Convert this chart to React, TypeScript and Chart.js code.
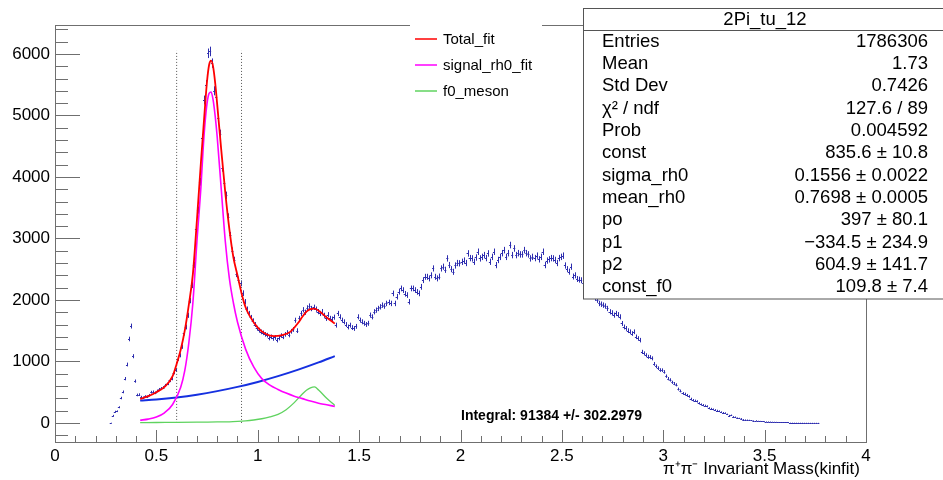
import React, { useEffect, useRef } from "react";
import { Chart, registerables } from "chart.js";

Chart.register(...registerables);

// ---------------- data ----------------
const binStart = 0.275;
const binWidth = 0.01;
const entriesPerBin = [
  // 0.275 - 0.425
  5, 120, 185, 190, 255, 405, 505, 720, 950, 1365, 1575, 1085, 680, 455, 460, 420,
  // 0.435 - 0.665
  410, 430, 425, 450, 500, 505, 490, 520, 545, 560, 575, 610, 640, 690, 720, 820, 860, 1040, 1100, 1240, 1460, 1560, 1750, 1990,
  // 0.675 - 0.925
  2240, 2570, 3160, 3460, 3920, 4630, 5250, 5500, 6010, 6040, 5850, 5400, 5300, 4950, 4700, 4150, 3900, 3700, 3350, 3050, 2800, 2650, 2420, 2330, 2270, 2110,
  // 0.935 - 1.395
  1970, 1850, 1780, 1715, 1660, 1600, 1540, 1509, 1480, 1465, 1440, 1427, 1380, 1400, 1373, 1390, 1346, 1380, 1420, 1400,
  1440, 1470, 1430, 1490, 1520, 1670, 1500, 1700, 1780, 1840, 1800, 1870, 1900, 1860, 1880, 1850, 1810, 1780, 1810, 1750,
  1700, 1760, 1700, 1690, 1720, 1590, 1780,
  // 1.405 - 1.995
  1725, 1671, 1644, 1600, 1560, 1590, 1550, 1536, 1570, 1725, 1671, 1644, 1620, 1601, 1620, 1753, 1725, 1807, 1834, 1861,
  1888, 1915, 1900, 1943, 1960, 1943, 2106, 1943, 2052, 2133, 2187, 2160, 2100, 2079, 1970, 2187, 2187, 2160, 2130, 2106,
  2213, 2322, 2376, 2376, 2350, 2400, 2512, 2376, 2350, 2380, 2512, 2540, 2490, 2675, 2567, 2500, 2457, 2560, 2600, 2595,
  // 2.005 - 2.595
  2620, 2640, 2600, 2756, 2680, 2675, 2620, 2690, 2783, 2675, 2700, 2729, 2680, 2756, 2620, 2700, 2783, 2566, 2650, 2700,
  2760, 2810, 2700, 2760, 2892, 2729, 2837, 2729, 2760, 2740, 2740, 2810, 2760, 2740, 2675, 2700, 2680, 2720, 2660, 2700,
  2783, 2566, 2640, 2660, 2680, 2675, 2650, 2600, 2680, 2700, 2720, 2560, 2500, 2460, 2540, 2380, 2400, 2340, 2330, 2320,
  // 2.605 - 3.195
  2280, 2230, 2190, 2140, 2100, 2060, 2030, 1997, 1943, 1930, 1915, 1900, 1861, 1807, 1790, 1753, 1780, 1760, 1725, 1617,
  1560, 1536, 1500, 1482, 1454, 1482, 1400, 1373, 1346, 1155, 1130, 1100, 1075, 1070, 1050, 960, 920, 890, 860, 858,
  830, 760, 720, 700, 660, 640, 620, 550, 520, 480, 470, 450, 430, 390, 370, 360, 350, 320, 300, 290,
  // 3.205 - 3.765
  280, 270, 240, 230, 220, 210, 200, 190, 175, 165, 160, 140, 120, 125, 100, 95, 80, 75, 70, 55,
  50, 48, 45, 40, 35, 38, 30, 28, 25, 24, 22, 20, 18, 16, 15, 14, 12, 11, 10, 9,
  8, 8, 7, 7, 6, 6, 5, 5, 5, 4, 4, 4, 3, 3, 3, 3, 2,
];
const binCenters = entriesPerBin.map((_, i) => +(binStart + i * binWidth).toFixed(3));

// fit curves
const totalFitX = [0.42, 0.46, 0.5, 0.54, 0.58, 0.6, 0.62, 0.64, 0.66, 0.68, 0.7, 0.72, 0.74, 0.75, 0.76, 0.77, 0.78, 0.79, 0.8, 0.82, 0.84, 0.86, 0.88, 0.9, 0.92, 0.94, 0.96, 1.0, 1.04, 1.08, 1.12, 1.16, 1.2, 1.22, 1.24, 1.26, 1.28, 1.3, 1.34, 1.38];
const totalFitY = [390, 435, 500, 585, 760, 960, 1190, 1500, 1920, 2420, 3300, 4250, 5150, 5560, 5820, 5890, 5790, 5530, 5180, 4440, 3740, 3150, 2690, 2400, 2110, 1880, 1740, 1550, 1445, 1410, 1427, 1481, 1630, 1725, 1810, 1850, 1860, 1825, 1715, 1615];

const signalX = [0.42, 0.46, 0.5, 0.54, 0.58, 0.62, 0.64, 0.66, 0.68, 0.7, 0.72, 0.73, 0.74, 0.75, 0.76, 0.77, 0.78, 0.79, 0.8, 0.82, 0.84, 0.86, 0.88, 0.9, 0.94, 0.98, 1.02, 1.06, 1.1, 1.14, 1.18, 1.22, 1.26, 1.3, 1.34, 1.38];
const signalY = [44, 62, 96, 165, 300, 580, 850, 1300, 1950, 2950, 3850, 4420, 4880, 5200, 5360, 5380, 5250, 4990, 4650, 3800, 2950, 2350, 1950, 1640, 1200, 910, 720, 615, 545, 485, 435, 395, 355, 320, 295, 268];

const f0X = [0.42, 0.5, 0.6, 0.7, 0.8, 0.86, 0.9, 0.94, 0.98, 1.02, 1.06, 1.1, 1.14, 1.18, 1.22, 1.24, 1.26, 1.28, 1.3, 1.34, 1.38];
const f0Y = [5, 7, 9, 12, 16, 18, 24, 33, 48, 68, 98, 140, 215, 330, 470, 530, 570, 585, 535, 400, 285];

const bkgX = [0.42, 0.5, 0.6, 0.7, 0.8, 0.9, 1.0, 1.1, 1.2, 1.3, 1.38];
const bkgY = [363, 381, 414, 459, 517, 586, 667, 761, 867, 984, 1087];

const cutPositions = [0.6, 0.92];
const cutRange = [0, 6050];

const xTickValues = [0, 0.5, 1, 1.5, 2, 2.5, 3, 3.5, 4];
const yTickValues = [0, 1000, 2000, 3000, 4000, 5000, 6000];

const statsTitle = "2Pi_tu_12";
const statNames = ["Entries", "Mean", "Std Dev", "χ² / ndf", "Prob", "const", "sigma_rh0", "mean_rh0", "po", "p1", "p2", "const_f0"];
const statValues = ["1786306", "1.73", "0.7426", "127.6 / 89", "0.004592", "835.6 ± 10.8", "0.1556 ± 0.0022", "0.7698 ± 0.0005", "397 ± 80.1", "−334.5 ± 234.9", "604.9 ± 141.7", "109.8 ± 7.4"];

const integralText = "Integral: 91384 +/- 302.2979";
const xAxisTitle = "π⁺π⁻ Invariant Mass(kinfit)";

// ---------------- styles ----------------
const FONT = '"Liberation Sans", Arial, Helvetica, sans-serif';
const HIST_COLOR = "rgb(45,45,175)";
const FRAME_COLOR = "#6f6f6f";

const toXY = (xs: number[], ys: number[]) => xs.map((x, i) => ({ x, y: ys[i] }));

const histPlugin = {
  id: "histCrosses",
  beforeDatasetsDraw(chart: any) {
    const { ctx, scales } = chart;
    const xs = scales.x;
    const ys = scales.y;
    ctx.save();
    ctx.strokeStyle = HIST_COLOR;
    ctx.lineWidth = 1;
    ctx.beginPath();
    entriesPerBin.forEach((c, i) => {
      const xc = binCenters[i];
      const x0 = xs.getPixelForValue(xc - binWidth / 2);
      const x1 = xs.getPixelForValue(xc + binWidth / 2);
      const px = Math.round(xs.getPixelForValue(xc)) + 0.5;
      const py = Math.round(ys.getPixelForValue(c)) + 0.5;
      const err = Math.sqrt(c);
      ctx.moveTo(x0, py);
      ctx.lineTo(x1, py);
      ctx.moveTo(px, ys.getPixelForValue(c + err));
      ctx.lineTo(px, ys.getPixelForValue(c - err));
    });
    ctx.stroke();
    ctx.restore();
  },
};

const decorPlugin = {
  id: "rootDecor",
  afterDraw(chart: any) {
    const { ctx, chartArea: a, scales } = chart;
    const xs = scales.x;
    const ys = scales.y;
    ctx.save();
    // frame
    ctx.strokeStyle = FRAME_COLOR;
    ctx.lineWidth = 1;
    ctx.strokeRect(Math.round(a.left) + 0.5, Math.round(a.top) + 0.5, Math.round(a.right - a.left), Math.round(a.bottom - a.top));
    // y ticks (inward)
    ctx.beginPath();
    for (let v = -200; v <= 6400; v += 200) {
      const py = Math.round(ys.getPixelForValue(v)) + 0.5;
      if (py < a.top || py > a.bottom) continue;
      const len = v % 1000 === 0 ? 25 : 13;
      ctx.moveTo(a.left, py);
      ctx.lineTo(a.left + len, py);
    }
    // x ticks (inward)
    for (let k = 0; k <= 40; k++) {
      const v = k / 10;
      const px = Math.round(xs.getPixelForValue(v)) + 0.5;
      const len = k % 5 === 0 ? 12 : 6;
      ctx.moveTo(px, a.bottom);
      ctx.lineTo(px, a.bottom - len);
    }
    ctx.stroke();

    // legend (white box hides frame)
    ctx.fillStyle = "#fff";
    ctx.fillRect(410, 18, 132, 88);
    const ds = chart.data.datasets.slice(0, 3);
    ctx.font = `15px ${FONT}`;
    ctx.textBaseline = "middle";
    ctx.textAlign = "left";
    ds.forEach((d: any, i: number) => {
      const yy = 39 + i * 26;
      ctx.strokeStyle = d.borderColor;
      ctx.lineWidth = 1.5;
      ctx.beginPath();
      ctx.moveTo(415, yy);
      ctx.lineTo(437, yy);
      ctx.stroke();
      ctx.fillStyle = "#000";
      ctx.fillText(d.label, 443, yy + 0.5);
    });

    // stats box
    const bx = 583.5, by = 8.5, bw = 365, bh = 290.5;
    ctx.fillStyle = "#fff";
    ctx.fillRect(bx, by, bw, bh);
    ctx.strokeStyle = "#555";
    ctx.lineWidth = 1;
    ctx.strokeRect(bx, by, bw, bh);
    ctx.beginPath();
    ctx.moveTo(bx, 30.5);
    ctx.lineTo(bx + bw, 30.5);
    ctx.stroke();
    ctx.fillStyle = "#000";
    ctx.font = `18.5px ${FONT}`;
    ctx.textAlign = "center";
    ctx.fillText(statsTitle, 765, 19.5);
    statNames.forEach((n, i) => {
      const yy = 41.7 + i * 22.33;
      ctx.textAlign = "left";
      ctx.fillText(n, 602, yy);
      ctx.textAlign = "right";
      ctx.fillText(statValues[i], 928, yy);
    });

    // integral text
    ctx.font = `bold 14px ${FONT}`;
    ctx.textAlign = "left";
    ctx.textBaseline = "alphabetic";
    ctx.fillText(integralText, 461, 420);

    // x axis title
    ctx.font = `17px ${FONT}`;
    ctx.textAlign = "right";
    ctx.fillText(xAxisTitle, 860, 474);
    ctx.restore();
  },
};

export default function App() {
  const ref = useRef<HTMLCanvasElement | null>(null);
  useEffect(() => {
    if (!ref.current) return;
    const line = (label: string, data: any[], color: string, width: number) => ({
      type: "line" as const,
      label,
      data,
      borderColor: color,
      backgroundColor: color,
      borderWidth: width,
      pointRadius: 0,
      fill: false,
      cubicInterpolationMode: "monotone" as const,
      showLine: true,
    });
    const chart = new Chart(ref.current, {
      type: "scatter",
      data: {
        datasets: [
          line("Total_fit", toXY(totalFitX, totalFitY), "#ff0000", 1.8),
          line("signal_rh0_fit", toXY(signalX, signalY), "#ff00ff", 1.6),
          line("f0_meson", toXY(f0X, f0Y), "#5fd35f", 1.3),
          line("background", toXY(bkgX, bkgY), "#1530e0", 2),
          ...cutPositions.map((c, i) => ({
            ...line("cut" + i, [{ x: c, y: cutRange[0] }, { x: c, y: cutRange[1] }], "#555", 1),
            borderDash: [1, 2],
            cubicInterpolationMode: "default" as const,
          })),
        ],
      },
      options: {
        responsive: false,
        animation: false,
        events: [],
        layout: { padding: { left: 0, top: 25, right: 77, bottom: 0 } },
        plugins: { legend: { display: false }, tooltip: { enabled: false }, title: { display: false } },
        scales: {
          x: {
            type: "linear",
            min: 0,
            max: 4,
            grid: { display: false, drawTicks: false },
            border: { display: false },
            afterBuildTicks: (s: any) => {
              s.ticks = xTickValues.map((v) => ({ value: v }));
            },
            afterFit: (s: any) => {
              s.height = 38;
            },
            ticks: {
              padding: 4,
              color: "#000",
              font: { family: FONT, size: 17 },
              maxRotation: 0,
              autoSkip: false,
              callback: (v: any) => String(v),
            },
          },
          y: {
            type: "linear",
            min: -310,
            max: 6470,
            grid: { display: false, drawTicks: false },
            border: { display: false },
            afterBuildTicks: (s: any) => {
              s.ticks = yTickValues.map((v) => ({ value: v }));
            },
            afterFit: (s: any) => {
              s.width = 55;
            },
            ticks: {
              padding: 5,
              color: "#000",
              font: { family: FONT, size: 17 },
              autoSkip: false,
              callback: (v: any) => String(v),
            },
          },
        },
      },
      plugins: [histPlugin, decorPlugin],
    });
    return () => chart.destroy();
  }, []);
  return (
    <div style={{ position: "absolute", left: 0, top: 0, width: 943, height: 480, background: "#fff" }}>
      <canvas ref={ref} width={943} height={480} style={{ width: 943, height: 480 }} />
    </div>
  );
}
